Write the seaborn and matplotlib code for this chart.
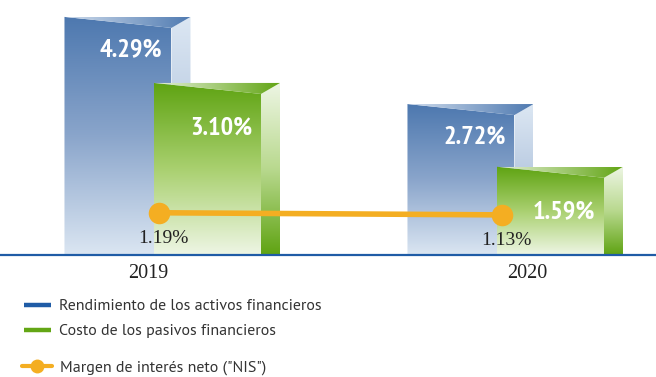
import numpy as np
import pandas as pd
import matplotlib
matplotlib.use("Agg")
import matplotlib.pyplot as plt
import seaborn as sns
from matplotlib.patches import Polygon
from matplotlib.lines import Line2D
from matplotlib.colors import LinearSegmentedColormap
from matplotlib.legend_handler import HandlerLine2D
from matplotlib import transforms, font_manager

# ---- data -------------------------------------------------------------
years = ["2019", "2020"]
series = ["Rendimiento de los activos financieros",
          "Costo de los pasivos financieros"]
rendimiento = [4.29, 2.72]
costo = [3.10, 1.59]
nis = [1.19, 1.13]
nis_name = 'Margen de interés neto ("NIS")'

df = pd.DataFrame({
    "year": years * 2,
    "serie": [series[0]] * len(years) + [series[1]] * len(years),
    "valor": rendimiento + costo,
})


def pick_font(names):
    for n in names:
        try:
            font_manager.findfont(font_manager.FontProperties(family=n),
                                  fallback_to_default=False)
            return n
        except Exception:
            continue
    return "DejaVu Sans"


sns.set_theme(style="white")
NARROW = pick_font(["PT Sans Narrow", "Fira Sans Condensed",
                    "Roboto Condensed", "Archivo Narrow",
                    "Liberation Sans Narrow", "Liberation Sans"])
SANS = pick_font(["PT Sans", "Open Sans", "Lato", "Liberation Sans"])
SERIF = pick_font(["Liberation Serif", "DejaVu Serif"])
plt.rcParams["font.family"] = [SANS, "DejaVu Sans"]

BLUE = "#1f5ca6"
GREEN = "#63a615"
ORANGE = "#f4ae22"

# gradient stops per series: front (top->bottom), side (top->bottom), top (left->right)
styles = {
    series[0]: dict(front=["#4d78af", "#8aa5cb", "#dbe6f2"],
                    side=["#dce7f3", "#b7c9e0", "#9fb6d6"],
                    top=["#cfdcec", "#4f7ab1"]),
    series[1]: dict(front=["#5ea311", "#a9d06f", "#eef6e5"],
                    side=["#eef6e5", "#b9d98f", "#5fa312"],
                    top=["#e6f1d9", "#62a514"]),
}

W, H, DPI = 656, 377, 100
fig = plt.figure(figsize=(W / DPI, H / DPI), dpi=DPI)
fig.patch.set_facecolor("white")

base_px = 255
ax = fig.add_axes([0, 1 - base_px / H, 1, base_px / H])

px_per_cat = 343.0          # horizontal pixels between category centres
px_per_unit = 55.5          # vertical pixels per percentage point (bars)
left_px = 154.0             # pixel position of first category

offset = 0.261              # dodge step of each series
front_w = 107 / px_per_cat  # visible front face width
depth = 19 / px_per_cat     # side face depth
rise = 11 / px_per_unit     # slant of the top face

sns.barplot(data=df, x="year", y="valor", hue="serie", order=years,
            hue_order=series, width=2 * offset, dodge=True,
            palette=[BLUE, GREEN], ax=ax, legend=False)


def gradient_poly(verts, colors, vertical, z):
    poly = Polygon(verts, closed=True, transform=ax.transData,
                   facecolor="none", edgecolor="none")
    ax.add_patch(poly)
    xs = [v[0] for v in verts]
    ys = [v[1] for v in verts]
    cmap = LinearSegmentedColormap.from_list("g", colors)
    g = np.linspace(0, 1, 256)
    arr = g.reshape(-1, 1) if vertical else g.reshape(1, -1)
    im = ax.imshow(arr, cmap=cmap, aspect="auto", origin="upper",
                   extent=(min(xs), max(xs), min(ys), max(ys)),
                   interpolation="bicubic", zorder=z)
    im.set_clip_path(poly)


label_dy = {series[0]: -33, series[1]: -45}
for si, (name, cont) in enumerate(zip(series, ax.containers)):
    st = styles[name]
    for bar in cont:
        x0 = bar.get_x()
        v = bar.get_height()
        bar.set_visible(False)
        z = 2 + si + 0.0
        x1 = x0 + front_w
        x2 = x1 + depth
        gradient_poly([(x0, 0), (x0, v), (x1, v - rise), (x1, 0)],
                      st["front"], True, z)
        gradient_poly([(x1, 0), (x1, v - rise), (x2, v), (x2, 0)],
                      st["side"], True, z + 0.1)
        gradient_poly([(x0, v), (x2, v), (x1, v - rise)],
                      st["top"], False, z + 0.2)
        ax.annotate(f"{v:.2f}%", xy=(x1, v), xytext=(-9, label_dy[name]),
                    textcoords="offset pixels", ha="right", va="center",
                    color="white", fontsize=19, fontweight="bold",
                    family=[NARROW, "DejaVu Sans"], zorder=10)

ax.set_xlim(-left_px / px_per_cat, (W - left_px) / px_per_cat)
ax.set_ylim(0, base_px / px_per_unit)
for s in ax.spines.values():
    s.set_visible(False)
ax.set_yticks([])
ax.set_xlabel("")
ax.set_ylabel("")
ax.axhline(0, color=BLUE, lw=1.6, clip_on=False, zorder=20)

# category labels
tick_shift = [-6 / px_per_cat, 30 / px_per_cat]
ax.set_xticks([i + d for i, d in enumerate(tick_shift)])
ax.set_xticklabels(years, family=[SERIF, "DejaVu Serif"], fontsize=14.5,
                   color="#222222")
ax.tick_params(axis="x", length=0, pad=6.5)

# net interest margin on its own scale
ax2 = ax.twinx()
ax2.set_ylim(0, base_px / 35.5)
ax2.set_xlim(ax.get_xlim())
xpos = np.arange(len(years))
sns.lineplot(x=xpos, y=nis, ax=ax2, color=ORANGE, lw=4, marker="o",
             markersize=15.5, markeredgewidth=0, zorder=5)
shift = transforms.offset_copy(ax2.transData, fig=fig, x=5, y=0,
                               units="dots")
for ln in ax2.lines:
    ln.set_transform(shift)
for xi, val in zip(xpos, nis):
    ax2.annotate(f"{val:.2f}%", xy=(xi, val), xytext=(9, -26),
                 textcoords="offset pixels", ha="center", va="center",
                 family=[SERIF, "DejaVu Serif"], fontsize=14,
                 color="#222222")
ax2.set_yticks([])
for s in ax2.spines.values():
    s.set_visible(False)
ax2.set_ylabel("")

# legends
leg_font = 11.5
h_bars = [Line2D([], [], color=BLUE, lw=3.2, solid_capstyle="butt"),
          Line2D([], [], color=GREEN, lw=3.2, solid_capstyle="butt")]
leg1 = fig.legend(h_bars, series, loc="upper left",
                  bbox_to_anchor=(24 / W, 1 - 299 / H), frameon=False,
                  fontsize=leg_font, handlelength=1.7, handletextpad=0.5,
                  borderpad=0, borderaxespad=0, labelspacing=0.68,
                  labelcolor="#333333")


class MarkerLeft(HandlerLine2D):
    def get_xdata(self, legend, xdescent, ydescent, width, height, fontsize):
        xdata = np.array([-xdescent, -xdescent + width])
        return xdata, np.array([-xdescent + 0.22 * width])


h_line = Line2D([], [], color=ORANGE, lw=3, marker="o", markersize=10,
                markeredgewidth=0)
leg2 = fig.legend([h_line], [nis_name], loc="upper left",
                  bbox_to_anchor=(22 / W, 1 - 360 / H), frameon=False,
                  fontsize=leg_font, handlelength=1.85, handletextpad=0.5,
                  borderpad=0, borderaxespad=0, labelcolor="#333333",
                  handler_map={Line2D: MarkerLeft(numpoints=1)})

fig.savefig("out.png", dpi=DPI, facecolor="white")
